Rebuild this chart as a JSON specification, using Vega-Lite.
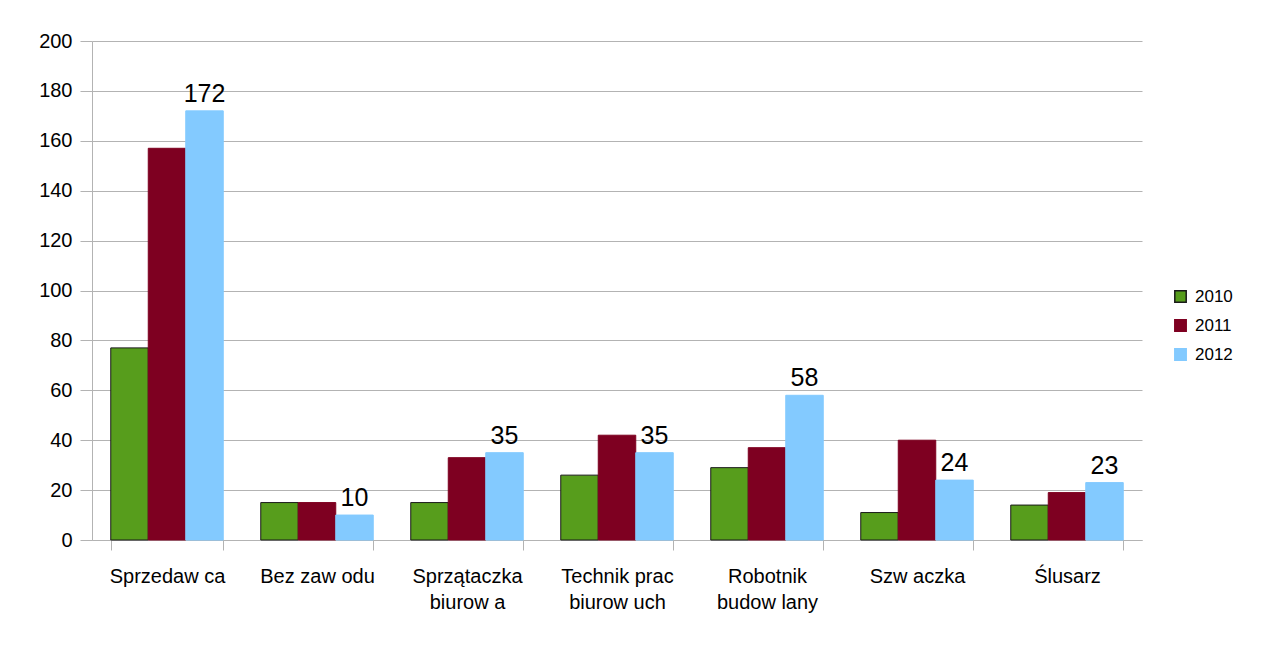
{
  "$schema": "https://vega.github.io/schema/vega-lite/v6.json",
  "width": 1050,
  "height": 499,
  "padding": {"left": 38, "top": 31, "right": 5, "bottom": 5},
  "background": "white",
  "config": {
    "font": "Liberation Sans",
    "view": {"stroke": null},
    "axis": {"labelFont": "Liberation Sans", "labelColor": "#000000", "domainColor": "#b3b3b3", "tickColor": "#b3b3b3", "gridColor": "#b3b3b3"}
  },
  "data": {
    "values": [
      {"zawod": "Sprzedaw ca", "rok": "2010", "wartosc": 77},
      {"zawod": "Sprzedaw ca", "rok": "2011", "wartosc": 157},
      {"zawod": "Sprzedaw ca", "rok": "2012", "wartosc": 172},
      {"zawod": "Bez zaw odu", "rok": "2010", "wartosc": 15},
      {"zawod": "Bez zaw odu", "rok": "2011", "wartosc": 15},
      {"zawod": "Bez zaw odu", "rok": "2012", "wartosc": 10},
      {"zawod": "Sprzątaczka\nbiurow a", "rok": "2010", "wartosc": 15},
      {"zawod": "Sprzątaczka\nbiurow a", "rok": "2011", "wartosc": 33},
      {"zawod": "Sprzątaczka\nbiurow a", "rok": "2012", "wartosc": 35},
      {"zawod": "Technik prac\nbiurow uch", "rok": "2010", "wartosc": 26},
      {"zawod": "Technik prac\nbiurow uch", "rok": "2011", "wartosc": 42},
      {"zawod": "Technik prac\nbiurow uch", "rok": "2012", "wartosc": 35},
      {"zawod": "Robotnik\nbudow lany", "rok": "2010", "wartosc": 29},
      {"zawod": "Robotnik\nbudow lany", "rok": "2011", "wartosc": 37},
      {"zawod": "Robotnik\nbudow lany", "rok": "2012", "wartosc": 58},
      {"zawod": "Szw aczka", "rok": "2010", "wartosc": 11},
      {"zawod": "Szw aczka", "rok": "2011", "wartosc": 40},
      {"zawod": "Szw aczka", "rok": "2012", "wartosc": 24},
      {"zawod": "Ślusarz", "rok": "2010", "wartosc": 14},
      {"zawod": "Ślusarz", "rok": "2011", "wartosc": 19},
      {"zawod": "Ślusarz", "rok": "2012", "wartosc": 23}
    ]
  },
  "encoding": {
    "x": {
      "field": "zawod", "type": "nominal", "sort": null, "title": null,
      "scale": {"paddingInner": 0.25, "paddingOuter": 0.125},
      "axis": {"labelAngle": 0, "labelFontSize": 20, "labelPadding": 16, "tickSize": 10, "tickBand": "extent", "labelBaseline": "top", "labelLineHeight": 26, "labelExpr": "split(datum.label, '\\n')"}
    },
    "y": {
      "field": "wartosc", "type": "quantitative", "title": null,
      "scale": {"domain": [0, 200]},
      "axis": {"values": [0, 20, 40, 60, 80, 100, 120, 140, 160, 180, 200], "labelFontSize": 20, "tickSize": 12, "labelPadding": 8, "grid": true}
    },
    "xOffset": {"field": "rok", "type": "nominal"}
  },
  "layer": [
    {
      "mark": {"type": "bar"},
      "encoding": {
        "color": {
          "field": "rok", "type": "nominal",
          "scale": {"domain": ["2010", "2011", "2012"], "range": ["#579D1C", "#7E0021", "#83CAFF"]},
          "legend": {"title": null, "orient": "none", "legendX": 1080, "legendY": 247, "symbolType": "square", "symbolSize": 130, "labelFontSize": 17, "labelFont": "Liberation Sans", "rowPadding": 10, "labelOffset": 6}
        },
        "stroke": {
          "field": "rok", "type": "nominal",
          "scale": {"domain": ["2010", "2011", "2012"], "range": ["#1a1a1a", "#7E0021", "#83CAFF"]},
          "legend": null
        }
      }
    },
    {
      "transform": [{"filter": "datum.rok === '2012'"}],
      "mark": {"type": "text", "baseline": "bottom", "dy": -4, "fontSize": 25, "font": "Liberation Sans", "color": "#000000"},
      "encoding": {"text": {"field": "wartosc", "type": "quantitative"}}
    }
  ]
}
